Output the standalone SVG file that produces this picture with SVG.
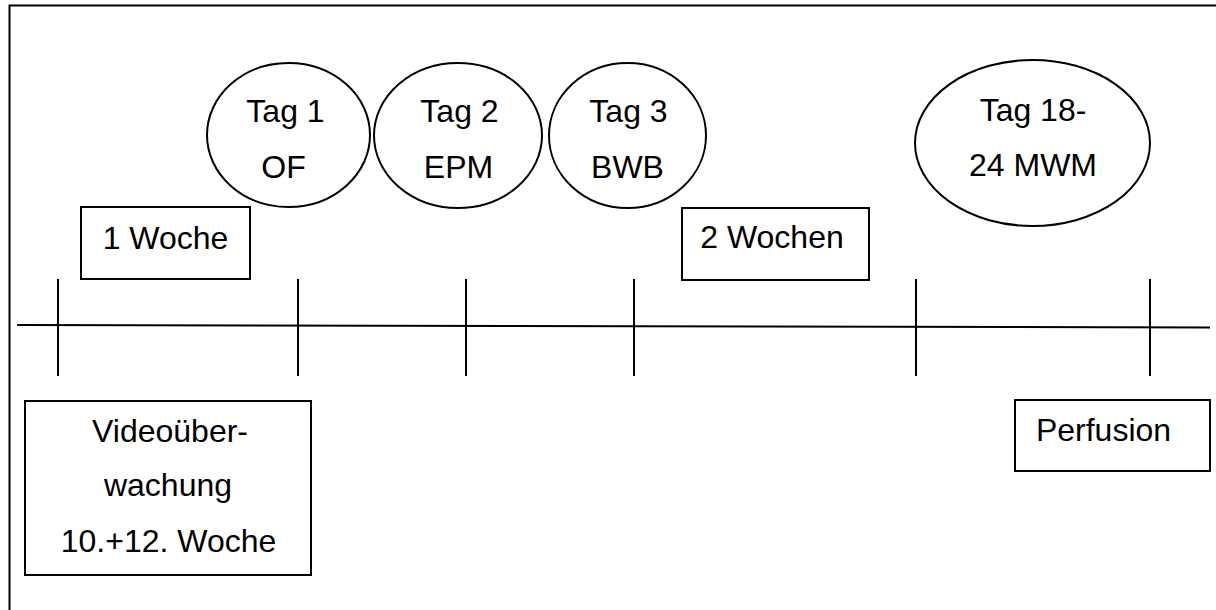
<svg xmlns="http://www.w3.org/2000/svg" width="1216" height="610" viewBox="0 0 1216 610">
  <style>
    .shape { fill: #ffffff; stroke: #000000; stroke-width: 2; }
    .line { fill: none; stroke: #000000; stroke-width: 2; }
    .label { font-family: "Liberation Sans", Arial, sans-serif; font-size: 32px; fill: #000000; text-anchor: middle; }
  </style>
  <rect width="1216" height="610" fill="#ffffff"/>

  <!-- outer frame (only top and left edges fall inside the page) -->
  <path class="line" d="M9.5,610 V5.5 H1216"/>

  <!-- time axis with tick marks -->
  <g id="connectors">
    <line class="line" x1="17" y1="325" x2="1210" y2="327.5"/>
    <line class="line" x1="58" y1="279" x2="58" y2="376"/>
    <line class="line" x1="298" y1="279" x2="298" y2="376"/>
    <line class="line" x1="466" y1="279" x2="466" y2="376"/>
    <line class="line" x1="634" y1="279" x2="634" y2="376"/>
    <line class="line" x1="916" y1="279" x2="916" y2="376"/>
    <line class="line" x1="1150" y1="279" x2="1150" y2="376"/>
  </g>

  <g id="tag1">
    <ellipse class="shape" cx="288.5" cy="135" rx="81.5" ry="72"/>
    <text class="label" x="285.5" y="122">Tag 1</text>
    <text class="label" x="283.5" y="178">OF</text>
  </g>

  <g id="tag2">
    <ellipse class="shape" cx="458" cy="135.5" rx="84" ry="72.5"/>
    <text class="label" x="459.5" y="122">Tag 2</text>
    <text class="label" x="458.5" y="178">EPM</text>
  </g>

  <g id="tag3">
    <ellipse class="shape" cx="627.5" cy="135.5" rx="78.5" ry="72.5"/>
    <text class="label" x="628.5" y="122">Tag 3</text>
    <text class="label" x="627.5" y="178">BWB</text>
  </g>

  <g id="tag18-24">
    <ellipse class="shape" cx="1032.5" cy="143" rx="117.5" ry="83"/>
    <text class="label" x="1033" y="121">Tag 18-</text>
    <text class="label" x="1033" y="176">24 MWM</text>
  </g>

  <g id="week1">
    <rect class="shape" x="81" y="207" width="169" height="72"/>
    <text class="label" x="165.5" y="249">1 Woche</text>
  </g>

  <g id="weeks2">
    <rect class="shape" x="682" y="208" width="187" height="72"/>
    <text class="label" x="772" y="248">2 Wochen</text>
  </g>

  <g id="video">
    <rect class="shape" x="25" y="401" width="286" height="174"/>
    <text class="label" x="170" y="442">Videoüber-</text>
    <text class="label" x="168" y="496">wachung</text>
    <text class="label" x="168.5" y="552">10.+12. Woche</text>
  </g>

  <g id="perfusion">
    <rect class="shape" x="1015" y="400" width="195" height="71"/>
    <text class="label" x="1103.5" y="441">Perfusion</text>
  </g>
</svg>
